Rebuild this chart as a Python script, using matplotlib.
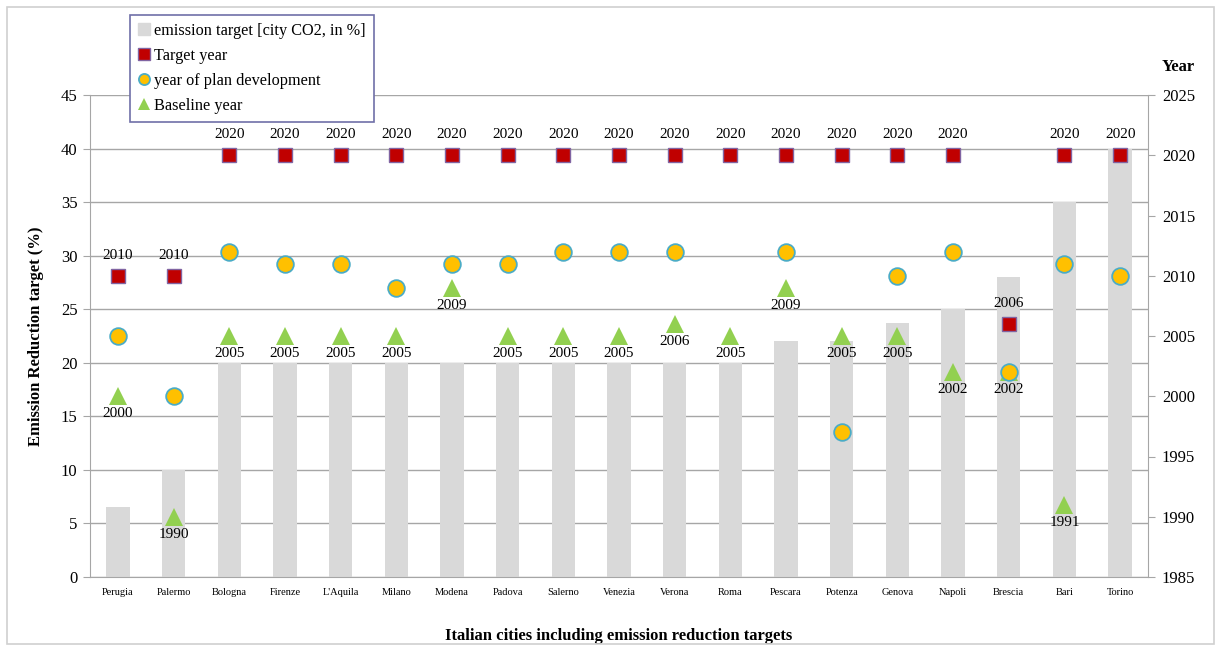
import matplotlib
matplotlib.use("Agg")
import matplotlib.pyplot as plt
import numpy as np
from matplotlib.patches import Rectangle
from matplotlib.lines import Line2D

plt.rcParams['font.family'] = ['Liberation Serif', 'DejaVu Serif']

cities = ["Perugia", "Palermo", "Bologna", "Firenze", "L'Aquila", "Milano", "Modena",
          "Padova", "Salerno", "Venezia", "Verona", "Roma", "Pescara", "Potenza",
          "Genova", "Napoli", "Brescia", "Bari", "Torino"]
emission_target = [6.5, 10, 20, 20, 20, 20, 20, 20, 20, 20, 20, 20, 22, 22, 23.7, 25, 28, 35, 40]
target_year = [2010, 2010, 2020, 2020, 2020, 2020, 2020, 2020, 2020, 2020, 2020, 2020,
               2020, 2020, 2020, 2020, 2006, 2020, 2020]
plan_year = [2005, 2000, 2012, 2011, 2011, 2009, 2011, 2011, 2012, 2012, 2012, np.nan,
             2012, 1997, 2010, 2012, 2002, 2011, 2010]
baseline_year = [2000, 1990, 2005, 2005, 2005, 2005, 2009, 2005, 2005, 2005, 2006, 2005,
                 2009, 2005, 2005, 2002, 2002, 1991, np.nan]

x = np.arange(len(cities))

fig = plt.figure(figsize=(12.21, 6.51), dpi=100)
fig.patches.append(Rectangle((7 / 1221, 7 / 651), 1 - 14 / 1221, 1 - 14 / 651,
                             transform=fig.transFigure, fill=False,
                             edgecolor="#D0D0D0", linewidth=1.2))

ax = fig.add_axes([90 / 1221, 74 / 651, 1058 / 1221, 482 / 651])
ax2 = ax.twinx()

grid_c = "#A6A6A6"
ax.bar(x, emission_target, width=0.42, color="#D9D9D9", zorder=2)
ax.set_xlim(-0.5, len(cities) - 0.5)
ax.set_ylim(0, 45)
ax.set_yticks(np.arange(0, 46, 5))
ax.yaxis.grid(True, color=grid_c, linewidth=1.0, zorder=0)
ax.set_axisbelow(True)
ax.set_xticks(x)
ax.set_xticklabels(cities, fontsize=7.5)
ax.tick_params(axis="x", length=0, pad=8)
ax.tick_params(axis="y", labelsize=12, length=5, color=grid_c, pad=4)
ax.spines["top"].set_visible(False)
ax.spines["left"].set_color(grid_c)
ax.spines["bottom"].set_color(grid_c)
ax.spines["right"].set_visible(False)

ax2.set_ylim(1985, 2025)
ax2.set_yticks(np.arange(1985, 2026, 5))
ax2.tick_params(axis="y", labelsize=12, length=5, color=grid_c, pad=5)
for s in ["top", "left", "bottom"]:
    ax2.spines[s].set_visible(False)
ax2.spines["right"].set_color(grid_c)

sq_style = dict(marker="s", markerfacecolor="#C00000", markeredgecolor="#8064A2",
                markeredgewidth=1.0)
ci_style = dict(marker="o", markerfacecolor="#FFC000", markeredgecolor="#4BACC6",
                markeredgewidth=1.3)
tr_style = dict(marker="^", markerfacecolor="#92D050", markeredgecolor="#92D050",
                markeredgewidth=0)

ax2.plot(x, target_year, linestyle="none", markersize=10, zorder=5, **sq_style)
ax2.plot(x, plan_year, linestyle="none", markersize=12, zorder=4, **ci_style)
ax2.plot(x, baseline_year, linestyle="none", markersize=13, zorder=3, **tr_style)

for xi, v in zip(x, target_year):
    ax2.annotate(f"{v}", (xi, v), xytext=(0, 10), textcoords="offset points",
                 ha="center", va="bottom", fontsize=11, zorder=6)
for xi, v in zip(x, baseline_year):
    if not np.isnan(v):
        ax2.annotate(f"{int(v)}", (xi, v), xytext=(0, -8), textcoords="offset points",
                     ha="center", va="top", fontsize=11, zorder=6)

ax.set_ylabel("Emission Reduction target (%)", fontsize=12, fontweight="bold", labelpad=12)
ax.set_xlabel("Italian cities including emission reduction targets", fontsize=12,
              fontweight="bold", labelpad=22)
fig.text(1178 / 1221, 1 - 67 / 651, "Year", fontsize=12, fontweight="bold",
         ha="center", va="center")

handles = [
    Line2D([], [], linestyle="none", marker="s", markersize=8,
           markerfacecolor="#D9D9D9", markeredgecolor="#D9D9D9"),
    Line2D([], [], linestyle="none", markersize=8, **sq_style),
    Line2D([], [], linestyle="none", markersize=8, **ci_style),
    Line2D([], [], linestyle="none", markersize=8, **tr_style),
]
leg = fig.legend(handles,
                 ["emission target [city CO2, in %]", "Target year",
                  "year of plan development", "Baseline year"],
                 loc="upper left", bbox_to_anchor=(130 / 1221, 1 - 15 / 651),
                 borderaxespad=0, fontsize=11.7, frameon=True, fancybox=False,
                 framealpha=1.0, handlelength=0.7, handletextpad=0.3,
                 borderpad=0.5, labelspacing=0.55)
leg.get_frame().set_edgecolor("#7070A8")
leg.get_frame().set_linewidth(1.2)
leg.set_zorder(10)

fig.savefig("out.png", dpi=100)
